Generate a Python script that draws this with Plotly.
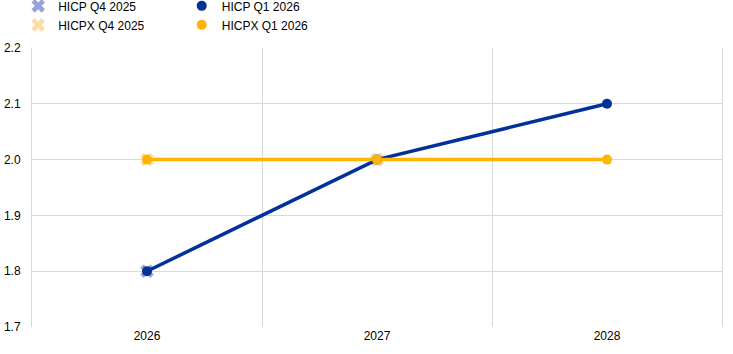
import plotly.graph_objects as go

categories = ["2026", "2027", "2028"]
hicp_q4_2025 = [1.8, 2.0]
hicpx_q4_2025 = [2.0, 2.0]
hicp_q1_2026 = [1.8, 2.0, 2.1]
hicpx_q1_2026 = [2.0, 2.0, 2.0]
y_ticks = [1.7, 1.8, 1.9, 2.0, 2.1, 2.2]

xpos = list(range(len(categories)))

BLUE = "#003299"
YELLOW = "#ffb400"
LBLUE = "#98a2d8"
LYELLOW = "#ffdca6"

fig = go.Figure()
# Q4 2025 markers (behind)
fig.add_trace(go.Scatter(x=xpos[:len(hicp_q4_2025)], y=hicp_q4_2025, mode="markers",
                         name="HICP Q4 2025", legend="legend",
                         marker=dict(symbol="x", size=12, color=LBLUE, line=dict(width=0))))
fig.add_trace(go.Scatter(x=xpos[:len(hicpx_q4_2025)], y=hicpx_q4_2025, mode="markers",
                         name="HICPX Q4 2025", legend="legend",
                         marker=dict(symbol="x", size=12, color=LYELLOW, line=dict(width=0))))
# Q1 2026 lines
fig.add_trace(go.Scatter(x=xpos, y=hicp_q1_2026, mode="lines", showlegend=False,
                         line=dict(color=BLUE, width=3.5), hoverinfo="skip"))
fig.add_trace(go.Scatter(x=xpos, y=hicpx_q1_2026, mode="lines", showlegend=False,
                         line=dict(color=YELLOW, width=3.5), hoverinfo="skip"))
# Q1 2026 markers (with legend entries)
fig.add_trace(go.Scatter(x=xpos, y=hicp_q1_2026, mode="markers",
                         name="HICP Q1 2026", legend="legend2",
                         marker=dict(symbol="circle", size=10, color=BLUE)))
fig.add_trace(go.Scatter(x=xpos, y=hicpx_q1_2026, mode="markers",
                         name="HICPX Q1 2026", legend="legend2",
                         marker=dict(symbol="circle", size=10, color=YELLOW)))

leg_common = dict(orientation="v", xanchor="left", yanchor="top", y=1.203,
                  font=dict(size=12, color="#000000"), bgcolor="rgba(0,0,0,0)",
                  traceorder="normal", itemwidth=30)

fig.update_layout(
    width=733, height=354,
    margin=dict(l=32, r=11, t=48, b=27, autoexpand=False),
    paper_bgcolor="white", plot_bgcolor="white",
    font=dict(family="Liberation Sans, Arial, sans-serif", size=12, color="#000000"),
    showlegend=True,
    legend=dict(x=-0.02, **leg_common),
    legend2=dict(x=0.217, **leg_common),
)
fig.update_xaxes(
    range=[-0.5, 2.5], tickmode="array", tickvals=xpos, ticktext=categories,
    showgrid=False, zeroline=False, showline=False, ticks="", automargin=False,
    minor=dict(tickmode="array", tickvals=[0.5, 1.5], showgrid=True,
               gridcolor="#d9d9d9", gridwidth=1, ticks=""),
    fixedrange=True,
)
fig.update_yaxes(
    range=[1.7, 2.2], tickmode="array", tickvals=y_ticks,
    ticktext=[f"{v:.1f}" for v in y_ticks],
    showgrid=True, gridcolor="#d9d9d9", gridwidth=1, zeroline=False,
    showline=True, mirror=True, linecolor="#d9d9d9", linewidth=1,
    ticks="", ticklabelstandoff=8, automargin=False, fixedrange=True,
)

fig.write_html("out.html")
